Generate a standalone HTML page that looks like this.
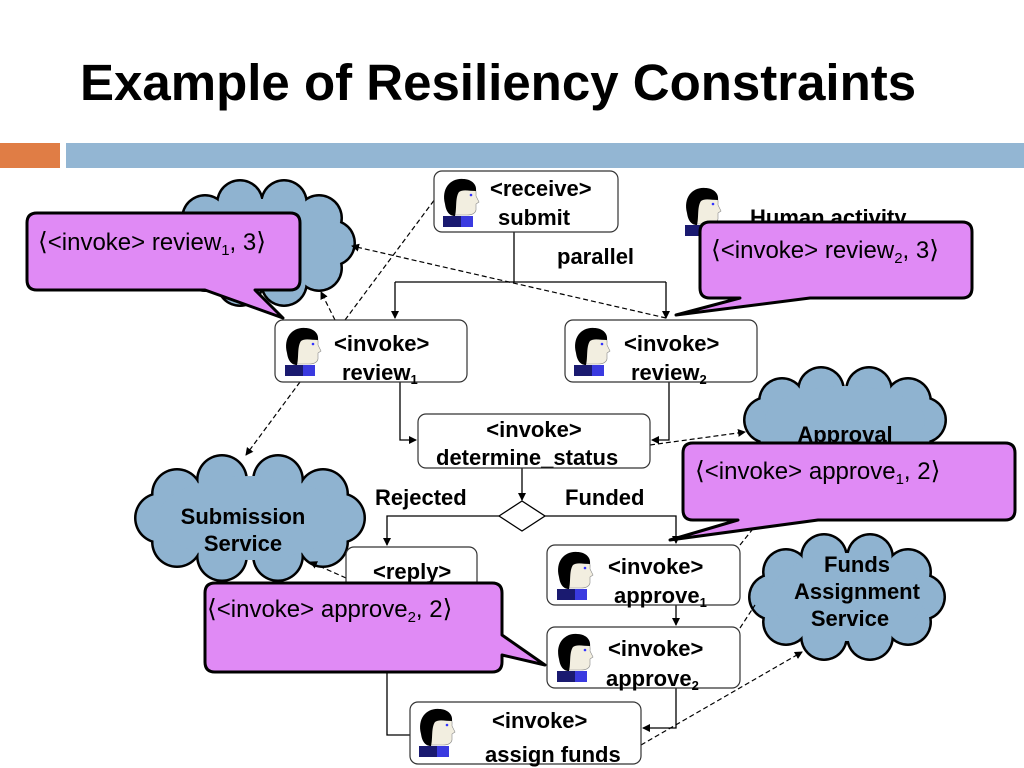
<!DOCTYPE html>
<html><head><meta charset="utf-8"><style>
html,body{margin:0;padding:0;background:#fff;}
svg{display:block;font-family:"Liberation Sans",sans-serif;}
.b{font-weight:bold;font-size:22px;fill:#000;}
.c{font-size:24px;fill:#000;}
.k{font-family:"DejaVu Sans",sans-serif;font-size:25px;}
.bx{fill:#fff;stroke:#333;stroke-width:1.2;}
.ln{fill:none;stroke:#000;stroke-width:1.3;}
.dl{fill:none;stroke:#000;stroke-width:1.2;stroke-dasharray:5,3;}
.co{fill:#e08af5;stroke:#000;stroke-width:3;stroke-linejoin:round;}
.ck circle,.ck ellipse{fill:#000;}
.cf circle,.cf ellipse{fill:#8fb3d0;}
</style></head><body>
<svg width="1024" height="768" viewBox="0 0 1024 768">
<defs>
<marker id="a" markerWidth="8" markerHeight="8" refX="7" refY="4" orient="auto" markerUnits="userSpaceOnUse"><path d="M0,0 L8,4 L0,8 z" fill="#000"/></marker>
<g id="p">
<rect x="2" y="38" width="30" height="11" fill="#1a1a70"/><rect x="20" y="38" width="12" height="11" fill="#3a3ae0"/>
<path d="M8,14 C8,6 14,2 22,2 C30,2 36,8 35,18 L38,24 L35,26 L35,32 C34,36 30,37 26,37 L12,37 Z" fill="#f2eee0" stroke="#888" stroke-width="0.6"/>
<path d="M4,26 C0,10 10,0 22,1 C30,1 36,6 35,13 C28,13 22,11 18,14 C14,20 16,30 14,38 C8,38 5,33 4,26 Z" fill="#000"/>
<circle cx="30" cy="17" r="1.3" fill="#33f"/>
</g>
</defs>

<text x="80" y="100" font-size="51" font-weight="bold">Example of Resiliency Constraints</text>
<rect x="0" y="143" width="60" height="25" fill="#e07d45"/>
<rect x="66" y="143" width="958" height="25" fill="#93b6d3"/>

<g class="ck">
<circle cx="332" cy="243" r="24"/><circle cx="319" cy="268" r="24"/><circle cx="284" cy="283" r="24"/><circle cx="240" cy="283" r="24"/><circle cx="205" cy="268" r="24"/><circle cx="192" cy="243" r="24"/><circle cx="205" cy="218" r="24"/><circle cx="240" cy="203" r="24"/><circle cx="284" cy="203" r="24"/><circle cx="319" cy="218" r="24"/>
<circle cx="923" cy="420" r="24"/><circle cx="908" cy="439" r="24"/><circle cx="869" cy="450" r="24"/><circle cx="821" cy="450" r="24"/><circle cx="782" cy="439" r="24"/><circle cx="767" cy="420" r="24"/><circle cx="782" cy="401" r="24"/><circle cx="821" cy="390" r="24"/><circle cx="869" cy="390" r="24"/><circle cx="908" cy="401" r="24"/>
<circle cx="340" cy="518" r="26"/><circle cx="323" cy="542" r="26"/><circle cx="278" cy="556" r="26"/><circle cx="222" cy="556" r="26"/><circle cx="177" cy="542" r="26"/><circle cx="160" cy="518" r="26"/><circle cx="177" cy="494" r="26"/><circle cx="222" cy="480" r="26"/><circle cx="278" cy="480" r="26"/><circle cx="323" cy="494" r="26"/>
<circle cx="922" cy="597" r="24"/><circle cx="908" cy="622" r="24"/><circle cx="870" cy="637" r="24"/><circle cx="824" cy="637" r="24"/><circle cx="786" cy="622" r="24"/><circle cx="772" cy="597" r="24"/><circle cx="786" cy="572" r="24"/><circle cx="824" cy="557" r="24"/><circle cx="870" cy="557" r="24"/><circle cx="908" cy="572" r="24"/>
</g>
<g class="cf">
<circle cx="332" cy="243" r="21.5"/><circle cx="319" cy="268" r="21.5"/><circle cx="284" cy="283" r="21.5"/><circle cx="240" cy="283" r="21.5"/><circle cx="205" cy="268" r="21.5"/><circle cx="192" cy="243" r="21.5"/><circle cx="205" cy="218" r="21.5"/><circle cx="240" cy="203" r="21.5"/><circle cx="284" cy="203" r="21.5"/><circle cx="319" cy="218" r="21.5"/>
<circle cx="923" cy="420" r="21.5"/><circle cx="908" cy="439" r="21.5"/><circle cx="869" cy="450" r="21.5"/><circle cx="821" cy="450" r="21.5"/><circle cx="782" cy="439" r="21.5"/><circle cx="767" cy="420" r="21.5"/><circle cx="782" cy="401" r="21.5"/><circle cx="821" cy="390" r="21.5"/><circle cx="869" cy="390" r="21.5"/><circle cx="908" cy="401" r="21.5"/>
<circle cx="340" cy="518" r="23.5"/><circle cx="323" cy="542" r="23.5"/><circle cx="278" cy="556" r="23.5"/><circle cx="222" cy="556" r="23.5"/><circle cx="177" cy="542" r="23.5"/><circle cx="160" cy="518" r="23.5"/><circle cx="177" cy="494" r="23.5"/><circle cx="222" cy="480" r="23.5"/><circle cx="278" cy="480" r="23.5"/><circle cx="323" cy="494" r="23.5"/>
<circle cx="922" cy="597" r="21.5"/><circle cx="908" cy="622" r="21.5"/><circle cx="870" cy="637" r="21.5"/><circle cx="824" cy="637" r="21.5"/><circle cx="786" cy="622" r="21.5"/><circle cx="772" cy="597" r="21.5"/><circle cx="786" cy="572" r="21.5"/><circle cx="824" cy="557" r="21.5"/><circle cx="870" cy="557" r="21.5"/><circle cx="908" cy="572" r="21.5"/>
<ellipse cx="262" cy="243" rx="72" ry="44"/>
<ellipse cx="845" cy="420" rx="80" ry="34"/>
<ellipse cx="250" cy="518" rx="92" ry="42"/>
<ellipse cx="847" cy="597" rx="77" ry="44"/>
</g>
<text class="b" x="845" y="442" text-anchor="middle" font-size="19">Approval</text>
<text class="b" x="243" y="524" text-anchor="middle" font-size="19">Submission</text>
<text class="b" x="243" y="551" text-anchor="middle" font-size="19">Service</text>
<text class="b" x="857" y="572" text-anchor="middle" font-size="19">Funds</text>
<text class="b" x="857" y="599" text-anchor="middle" font-size="19">Assignment</text>
<text class="b" x="850" y="626" text-anchor="middle" font-size="19">Service</text>

<path class="ln" d="M514,232 V282"/>
<path class="ln" d="M395,282 H666"/>
<path class="ln" d="M395,282 V318" marker-end="url(#a)"/>
<path class="ln" d="M666,282 V318" marker-end="url(#a)"/>
<path class="ln" d="M400,382 V440 H416" marker-end="url(#a)"/>
<path class="ln" d="M669,382 V440 H652" marker-end="url(#a)"/>
<path class="ln" d="M522,468 V500" marker-end="url(#a)"/>
<path class="ln" d="M499,516 L522,501 L545,516 L522,531 Z" fill="#fff"/>
<path class="ln" d="M499,516 H387 V545" marker-end="url(#a)"/>
<path class="ln" d="M545,516 H676 V543" marker-end="url(#a)"/>
<path class="ln" d="M676,605 V625" marker-end="url(#a)"/>
<path class="ln" d="M676,688 V728 H643" marker-end="url(#a)"/>
<path class="ln" d="M387,670 V735 H410"/>

<path class="dl" d="M666,318 L352,246" marker-end="url(#a)"/>
<path class="dl" d="M335,320 L321,292" marker-end="url(#a)"/>
<path class="dl" d="M345,320 L438,195" stroke-dasharray="6,3,1,3"/>
<path class="dl" d="M300,382 L246,455" marker-end="url(#a)"/>
<path class="dl" d="M650,445 L745,432" marker-end="url(#a)"/>
<path class="dl" d="M740,545 L760,520"/>
<path class="dl" d="M740,628 L755,605"/>
<path class="dl" d="M641,745 L802,652" marker-end="url(#a)"/>
<path class="dl" d="M346,578 L310,562" marker-end="url(#a)"/>

<rect class="bx" x="434" y="171" width="184" height="61" rx="8"/>
<use href="#p" x="441" y="178"/>
<text class="b" x="490" y="196">&lt;receive&gt;</text>
<text class="b" x="498" y="225">submit</text>

<text class="b" x="557" y="264">parallel</text>

<rect class="bx" x="275" y="320" width="192" height="62" rx="8"/>
<use href="#p" x="283" y="327"/>
<text class="b" x="334" y="351">&lt;invoke&gt;</text>
<text class="b" x="342" y="380">review<tspan font-size="13" dy="4">1</tspan></text>

<rect class="bx" x="565" y="320" width="192" height="62" rx="8"/>
<use href="#p" x="572" y="327"/>
<text class="b" x="624" y="351">&lt;invoke&gt;</text>
<text class="b" x="631" y="380">review<tspan font-size="13" dy="4">2</tspan></text>

<rect class="bx" x="418" y="414" width="232" height="54" rx="8"/>
<text class="b" x="534" y="437" text-anchor="middle">&lt;invoke&gt;</text>
<text class="b" x="436" y="465">determine_status</text>

<text class="b" x="375" y="505">Rejected</text>
<text class="b" x="565" y="505">Funded</text>

<rect class="bx" x="346" y="547" width="131" height="60" rx="8"/>
<text class="b" x="373" y="579">&lt;reply&gt;</text>

<rect class="bx" x="547" y="545" width="193" height="60" rx="8"/>
<use href="#p" x="555" y="551"/>
<text class="b" x="608" y="574">&lt;invoke&gt;</text>
<text class="b" x="614" y="603">approve<tspan font-size="13" dy="4">1</tspan></text>

<rect class="bx" x="547" y="627" width="193" height="61" rx="8"/>
<use href="#p" x="555" y="633"/>
<text class="b" x="608" y="656">&lt;invoke&gt;</text>
<text class="b" x="606" y="686">approve<tspan font-size="13" dy="4">2</tspan></text>

<rect class="bx" x="410" y="702" width="231" height="62" rx="8"/>
<use href="#p" x="417" y="708"/>
<text class="b" x="492" y="728">&lt;invoke&gt;</text>
<text class="b" x="485" y="762">assign funds</text>

<use href="#p" x="683" y="187"/>
<text class="b" x="750" y="225">Human activity</text>

<path class="co" d="M37,213 H290 Q300,213 300,223 V280 Q300,290 290,290 H255 L283,318 L205,290 H37 Q27,290 27,280 V223 Q27,213 37,213 Z"/>
<text class="c" x="38" y="250"><tspan class="k">⟨</tspan>&lt;invoke&gt; review<tspan font-size="15" dy="5">1</tspan><tspan dy="-5">, 3</tspan><tspan class="k">⟩</tspan></text>

<path class="co" d="M710,222 H962 Q972,222 972,232 V288 Q972,298 962,298 H810 L676,315 L740,298 H710 Q700,298 700,288 V232 Q700,222 710,222 Z"/>
<text class="c" x="711" y="258"><tspan class="k">⟨</tspan>&lt;invoke&gt; review<tspan font-size="15" dy="5">2</tspan><tspan dy="-5">, 3</tspan><tspan class="k">⟩</tspan></text>

<path class="co" d="M693,443 H1005 Q1015,443 1015,453 V510 Q1015,520 1005,520 H818 L670,540 L738,520 H693 Q683,520 683,510 V453 Q683,443 693,443 Z"/>
<text class="c" x="695" y="479"><tspan class="k">⟨</tspan>&lt;invoke&gt; approve<tspan font-size="15" dy="5">1</tspan><tspan dy="-5">, 2</tspan><tspan class="k">⟩</tspan></text>

<path class="co" d="M215,583 H492 Q502,583 502,593 V635 L545,665 L502,655 V662 Q502,672 492,672 H215 Q205,672 205,662 V593 Q205,583 215,583 Z"/>
<text class="c" x="207" y="617"><tspan class="k">⟨</tspan>&lt;invoke&gt; approve<tspan font-size="15" dy="5">2</tspan><tspan dy="-5">, 2</tspan><tspan class="k">⟩</tspan></text>
</svg>
</body></html>
